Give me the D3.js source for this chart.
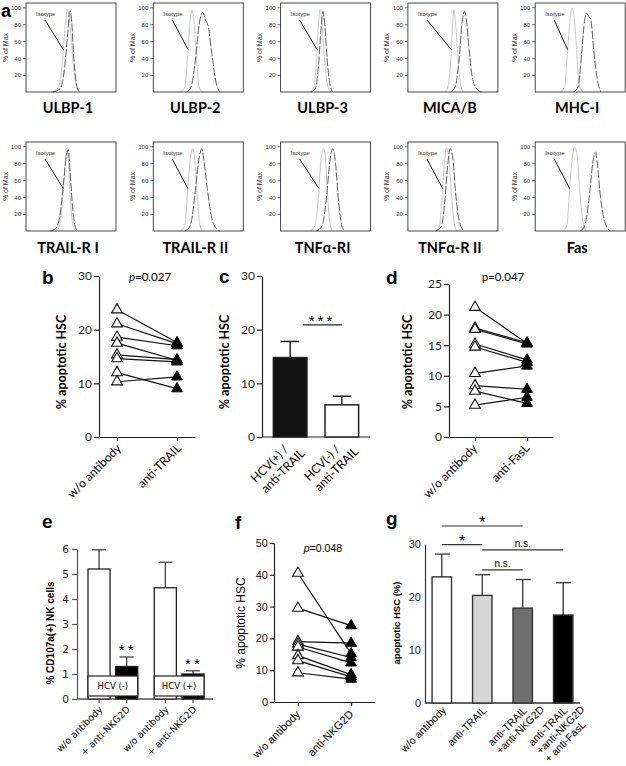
<!DOCTYPE html>
<html>
<head>
<meta charset="utf-8">
<script src="https://cdnjs.cloudflare.com/ajax/libs/d3/7.8.5/d3.min.js"></script>
<style>
body { margin: 0; background: #fff; }
svg { display: block; }
</style>
</head>
<body>
<svg id="fig" width="626" height="766"></svg>
<script>
// ---- panel a: flow histograms (x = fluorescence, 0-100 across frame; y = % of max) ----
const histNames = ['ULBP-1', 'ULBP-2', 'ULBP-3', 'MICA/B', 'MHC-I', 'TRAIL-R I', 'TRAIL-R II', 'TNFα-RI', 'TNFα-R II', 'Fas'];
const histIso = [
  [[28,0],[35,4],[40,30],[43,70],[46,98],[49,78],[52,38],[56,6],[60,0]],
  [[30,0],[35,6],[38,40],[41,85],[43,96],[45,85],[48,40],[51,6],[55,0]],
  [[33,0],[37,6],[40,40],[42,80],[44,98],[46,80],[49,35],[53,5],[56,0]],
  [[41,0],[45,8],[48,45],[50,85],[51,97],[53,80],[56,35],[59,6],[62,0]],
  [[28,0],[33,8],[36,50],[39,90],[41,99],[43,90],[46,50],[49,8],[53,0]],
  [[32,0],[37,5],[40,30],[43,70],[45,97],[47,85],[49,45],[52,8],[55,0]],
  [[30,0],[35,6],[38,45],[41,85],[44,97],[46,85],[49,40],[52,6],[55,0]],
  [[33,0],[38,6],[42,40],[45,85],[48,97],[50,85],[52,45],[55,8],[58,0]],
  [[31,0],[35,6],[38,40],[41,85],[43,98],[46,80],[49,35],[52,6],[55,0]],
  [[30,0],[35,6],[38,45],[41,85],[44,99],[47,85],[50,40],[54,6],[57,0]]
];
const histStain = [
  [[30,0],[38,4],[43,30],[46,65],[49,96],[51,80],[53,42],[56,10],[59,0]],
  [[37,0],[42,6],[47,40],[51,80],[55,94],[58,85],[61,78],[65,45],[70,10],[74,0]],
  [[34,0],[39,5],[42,30],[45,75],[47,95],[49,80],[52,35],[55,8],[58,0]],
  [[48,0],[53,8],[57,40],[60,80],[63,95],[65,85],[68,50],[72,15],[77,3],[82,0]],
  [[43,0],[48,8],[52,50],[55,85],[57,93],[59,90],[62,84],[65,50],[69,15],[73,0]],
  [[27,0],[33,3],[38,20],[42,60],[45,90],[47,96],[49,70],[52,25],[55,4],[58,0]],
  [[35,0],[41,6],[46,40],[50,80],[54,97],[56,85],[60,50],[65,15],[70,3],[74,0]],
  [[40,0],[46,6],[51,40],[55,85],[58,97],[61,80],[64,40],[68,6],[71,0]],
  [[31,0],[37,5],[41,35],[44,75],[47,97],[50,85],[53,45],[57,12],[62,0]],
  [[50,0],[55,6],[60,40],[64,80],[67,93],[69,80],[72,45],[77,12],[83,0]]
];
const histTicks = [20, 40, 60, 80, 100];

// ---- b ----
const bCats = ['w/o antibody', 'anti-TRAIL'];
const bBefore = [23.7, 21.1, 18.6, 17.5, 15.3, 14.6, 12.0, 10.3];
const bAfter = [17.6, 17.4, 17.0, 14.3, 14.4, 14.0, 9.0, 11.2];
const bTicks = [0, 10, 20, 30];

// ---- c ----
const cCats = [['HCV(+) /', 'anti-TRAIL'], ['HCV(-) /', 'anti-TRAIL']];
const cMeans = [14.8, 6.0];
const cSD = [3.0, 1.6];
const cTicks = [0, 10, 20, 30];

// ---- d ----
const dCats = ['w/o antibody', 'anti-FasL'];
const dBefore = [21.2, 17.8, 17.6, 15.2, 14.7, 10.4, 8.4, 7.5, 5.2];
const dAfter = [15.3, 15.4, 15.2, 12.6, 12.2, 11.6, 7.8, 5.5, 6.5];
const dTicks = [0, 5, 10, 15, 20, 25];

// ---- e ----
const eGroups = ['HCV (-)', 'HCV (+)'];
const eConds = ['w/o antibody', '+ anti-NKG2D'];
const eMeans = [[5.2, 1.3], [4.45, 1.0]];
const eSD = [[0.77, 0.38], [1.02, 0.13]];
const eTicks = [0, 1, 2, 3, 4, 5, 6];

// ---- f ----
const fCats = ['w/o antibody', 'anti-NKG2D'];
const fBefore = [40.5, 29.5, 19.0, 18.2, 17.3, 14.6, 13.0, 9.2];
const fAfter = [15.2, 24.0, 18.5, 14.0, 12.3, 8.6, 7.9, 7.2];
const fTicks = [0, 10, 20, 30, 40, 50];

// ---- g ----
const gCats = [['w/o antibody'], ['anti-TRAIL'], ['anti-TRAIL', '+anti-NKG2D'], ['anti-TRAIL', '+anti-NKG2D', '+ anti-FasL']];
const gMeans = [23.8, 20.3, 17.9, 16.6];
const gSD = [4.3, 3.9, 5.4, 6.1];
const gTicks = [0, 10, 20, 30];
const gSig = [[0, 2, '*', 33.4], [0, 1, '*', 29.9], [1, 3, 'n.s.', 28.9], [1, 2, 'n.s.', 25.1]];
const gFills = ['#ffffff', '#d6d6d6', '#6f6f6f', '#000000'];

const CAL = "Lato, 'Open Sans', sans-serif";
const ARI = "'Liberation Sans', Arial, sans-serif";
const VER = "'DejaVu Sans', Verdana, sans-serif";

const svg = d3.select('#fig');
svg.append('rect').attr('width', 626).attr('height', 766).attr('fill', '#fff');

function letter(s, x, y, size) {
  svg.append('text').attr('x', x).attr('y', y).attr('font-family', ARI)
    .attr('font-weight', 'bold').attr('font-size', size || 19).text(s);
}

function yLabel(s, x, y, font, size, weight) {
  svg.append('text').attr('transform', `translate(${x},${y}) rotate(-90)`)
    .attr('text-anchor', 'middle').attr('font-family', font).attr('font-size', size)
    .attr('font-weight', weight || 'normal').text(s);
}

// rotated category label: first line ends at (x, y), further lines left-aligned under it
function rotLabel(lines, x, y, font, size, lh) {
  const t = svg.append('text').attr('transform', `translate(${x},${y}) rotate(-45)`)
    .attr('font-family', font).attr('font-size', size);
  const first = t.append('tspan').attr('x', 0).text(lines[0]);
  const w = first.node().getComputedTextLength();
  first.attr('x', -w);
  lines.slice(1).forEach(s => t.append('tspan').attr('x', -w).attr('dy', lh || size * 1.1).text(s));
}

function styleAxis(ax, font, size, color) {
  ax.selectAll('.domain, .tick line').attr('stroke', color || '#222').attr('stroke-width', 1.2);
  ax.selectAll('text').attr('font-family', font).attr('font-size', size).attr('fill', '#222');
}

// ================= panel a =================
const hw = 90, hh = 89;
histNames.forEach((name, i) => {
  const x0 = 26 + (i % 5) * 127.3;
  const y0 = i < 5 ? 3 : 142;
  const g = svg.append('g').attr('transform', `translate(${x0},${y0})`);
  const x = d3.scaleLinear().domain([0, 100]).range([0, hw]);
  const y = d3.scaleLinear().domain([0, 105]).range([hh, 0]);
  const line = d3.line().x(d => x(d[0])).y(d => y(d[1])).curve(d3.curveMonotoneX);

  g.append('path').datum(histIso[i]).attr('d', line).attr('fill', 'none')
    .attr('stroke', '#c8c8c8').attr('stroke-width', 1);
  g.append('path').datum(histStain[i]).attr('d', line).attr('fill', 'none')
    .attr('stroke', '#5c5c5c').attr('stroke-width', 1).attr('stroke-dasharray', '8,2');
  g.append('rect').attr('width', hw).attr('height', hh).attr('fill', 'none')
    .attr('stroke', '#333').attr('stroke-width', 0.9);

  const ax = g.append('g').call(d3.axisLeft(y).tickValues(histTicks).tickSize(3).tickPadding(2));
  ax.select('.domain').remove();
  ax.selectAll('.tick line').attr('stroke', '#333').attr('stroke-width', 0.7);
  ax.selectAll('text').attr('font-family', ARI).attr('font-size', 6).attr('fill', '#333');

  g.append('text').attr('transform', `translate(-18.5,${hh / 2}) rotate(-90)`)
    .attr('text-anchor', 'middle').attr('font-family', ARI).attr('font-size', 7)
    .attr('fill', '#333').text('% of Max');

  g.append('text').attr('x', 10).attr('y', 13).attr('font-family', ARI)
    .attr('font-size', 6).attr('fill', '#333').text('Isotype');
  // leader line to the left flank of the isotype curve
  const iso = histIso[i];
  let xc = iso[0][0];
  for (let k = 1; k < iso.length; k++) {
    if (iso[k][1] >= 50) {
      const p = iso[k - 1], q = iso[k];
      xc = p[0] + (q[0] - p[0]) * (50 - p[1]) / (q[1] - p[1]);
      break;
    }
  }
  g.append('line').attr('x1', 19).attr('y1', 17).attr('x2', x(xc)).attr('y2', y(50))
    .attr('stroke', '#111').attr('stroke-width', 1);

  svg.append('text').attr('x', x0 + hw / 2 - 3).attr('y', i < 5 ? 113 : 253)
    .attr('text-anchor', 'middle').attr('font-family', CAL).attr('font-weight', 'bold')
    .attr('font-size', 14.5).text(name);
});
letter('a', 1, 17, 18);

// ================= paired plots (b, d, f) =================
function paired(o) {
  const y = d3.scaleLinear().domain([0, o.max]).range([o.y0, o.y1]);
  const x = d3.scalePoint().domain(o.cats).range([o.x0, o.x1]).padding(o.pad);
  const ya = svg.append('g').attr('transform', `translate(${o.x0},0)`)
    .call(d3.axisLeft(y).tickValues(o.ticks).tickSize(o.ts).tickSizeOuter(0).tickPadding(2));
  styleAxis(ya, o.font, o.fs);
  const xa = svg.append('g').attr('transform', `translate(0,${o.y0})`)
    .call(d3.axisBottom(x).tickSize(4).tickSizeOuter(0).tickFormat(''));
  styleAxis(xa, o.font, o.fs);

  o.before.forEach((v, k) => {
    svg.append('line').attr('x1', x(o.cats[0])).attr('y1', y(v))
      .attr('x2', x(o.cats[1])).attr('y2', y(o.after[k]))
      .attr('stroke', '#111').attr('stroke-width', 1.2);
  });
  const tri = d3.symbol().type(d3.symbolTriangle).size(50);
  o.after.forEach(v => {
    svg.append('path').attr('d', tri()).attr('transform', `translate(${x(o.cats[1])},${y(v)})`)
      .attr('fill', '#000').attr('stroke', '#000').attr('stroke-width', 1);
  });
  o.before.forEach(v => {
    svg.append('path').attr('d', tri()).attr('transform', `translate(${x(o.cats[0])},${y(v)})`)
      .attr('fill', '#fff').attr('stroke', '#111').attr('stroke-width', 1.1);
  });
  o.cats.forEach(c => rotLabel([c], x(c) + o.ldx, o.y0 + o.ldy, o.font, o.lfs));
}

paired({ cats: bCats, before: bBefore, after: bAfter, max: 30, ticks: bTicks,
  x0: 99, x1: 195, y0: 437, y1: 276, pad: 0.3, ts: 5, font: CAL, fs: 12,
  ldx: 5, ldy: 12, lfs: 12 });
letter('b', 42, 284);
yLabel('% apoptotic HSC', 66, 362, CAL, 12.5, 'bold');
svg.append('text').attr('x', 150).attr('y', 281).attr('text-anchor', 'middle')
  .attr('font-family', CAL).attr('font-size', 11.5)
  .call(t => { t.append('tspan').attr('font-style', 'italic').text('p'); t.append('tspan').text('=0.027'); });

paired({ cats: dCats, before: dBefore, after: dAfter, max: 25, ticks: dTicks,
  x0: 449, x1: 553, y0: 437, y1: 284, pad: 0.5, ts: 5, font: CAL, fs: 12,
  ldx: 3, ldy: 12, lfs: 12 });
letter('d', 386, 284);
yLabel('% apoptotic HSC', 412, 362, CAL, 12.5, 'bold');
svg.append('text').attr('x', 503).attr('y', 281).attr('text-anchor', 'middle')
  .attr('font-family', CAL).attr('font-size', 11.5).text('p=0.047');

paired({ cats: fCats, before: fBefore, after: fAfter, max: 50, ticks: fTicks,
  x0: 274, x1: 375, y0: 702, y1: 543, pad: 0.45, ts: 4, font: ARI, fs: 11,
  ldx: 3, ldy: 13, lfs: 11 });
letter('f', 235, 529);
yLabel('% apoptotic HSC', 245, 623, ARI, 12, 'normal');
svg.append('text').attr('x', 323).attr('y', 552).attr('text-anchor', 'middle')
  .attr('font-family', ARI).attr('font-size', 10.5)
  .call(t => { t.append('tspan').attr('font-style', 'italic').text('p'); t.append('tspan').text('=0.048'); });

// ================= c =================
{
  const y = d3.scaleLinear().domain([0, 30]).range([437, 276]);
  const x = d3.scaleBand().domain(d3.range(cMeans.length)).range([262, 370])
    .paddingInner(0.35).paddingOuter(0.22);
  const ya = svg.append('g').attr('transform', 'translate(262,0)')
    .call(d3.axisLeft(y).tickValues(cTicks).tickSize(5).tickSizeOuter(0).tickPadding(2));
  styleAxis(ya, CAL, 12);
  svg.append('line').attr('x1', 262).attr('x2', 370).attr('y1', 437).attr('y2', 437)
    .attr('stroke', '#222').attr('stroke-width', 1.2);
  cMeans.forEach((m, i) => {
    const cx = x(i) + x.bandwidth() / 2;
    svg.append('line').attr('x1', cx).attr('x2', cx).attr('y1', y(m)).attr('y2', y(m + cSD[i]))
      .attr('stroke', '#222').attr('stroke-width', 1.5);
    svg.append('line').attr('x1', cx - 9).attr('x2', cx + 9).attr('y1', y(m + cSD[i])).attr('y2', y(m + cSD[i]))
      .attr('stroke', '#222').attr('stroke-width', 1.5);
    svg.append('rect').attr('x', x(i)).attr('y', y(m)).attr('width', x.bandwidth())
      .attr('height', y(0) - y(m)).attr('fill', i === 0 ? '#111' : '#fff')
      .attr('stroke', '#222').attr('stroke-width', 1.5);
    rotLabel(cCats[i], cx - 1, 450, CAL, 12, 14.5);
  });
  const sy = y(20.9);
  svg.append('line').attr('x1', x(0) + x.bandwidth() * 0.88).attr('x2', x(1) + x.bandwidth() * 0.5)
    .attr('y1', sy).attr('y2', sy).attr('stroke', '#222').attr('stroke-width', 1.3);
  svg.append('text').attr('x', 322).attr('y', sy + 1).attr('text-anchor', 'middle')
    .attr('font-family', ARI).attr('font-size', 15).attr('letter-spacing', 3).text('***');
  letter('c', 219, 283);
  yLabel('% apoptotic HSC', 229, 362, CAL, 12.5, 'bold');
}

// ================= e =================
{
  const y = d3.scaleLinear().domain([0, 6]).range([699, 549]);
  const xg = d3.scaleBand().domain(eGroups).range([88, 204]).paddingInner(0.25).paddingOuter(0);
  const xc = d3.scaleBand().domain(eConds).range([0, xg.bandwidth()]).paddingInner(0.2).paddingOuter(0);
  const ya = svg.append('g').attr('transform', 'translate(77,0)')
    .call(d3.axisLeft(y).tickValues(eTicks).tickFormat(d3.format('d')).tickSize(5).tickSizeOuter(0).tickPadding(3));
  styleAxis(ya, VER, 10.5, '#555');
  svg.append('line').attr('x1', 77).attr('x2', 213).attr('y1', 699).attr('y2', 699)
    .attr('stroke', '#555').attr('stroke-width', 1.3);
  eGroups.forEach((grp, gi) => {
    eConds.forEach((cond, ci) => {
      const bx = xg(grp) + xc(cond);
      const cx = bx + xc.bandwidth() / 2;
      const m = eMeans[gi][ci], top = m + eSD[gi][ci];
      svg.append('line').attr('x1', cx).attr('x2', cx).attr('y1', y(m)).attr('y2', y(top))
        .attr('stroke', '#444').attr('stroke-width', 1.3);
      svg.append('line').attr('x1', cx - 7).attr('x2', cx + 7).attr('y1', y(top)).attr('y2', y(top))
        .attr('stroke', '#444').attr('stroke-width', 1.3);
      svg.append('rect').attr('x', bx).attr('y', y(m)).attr('width', xc.bandwidth())
        .attr('height', y(0) - y(m)).attr('fill', ci === 0 ? '#fff' : '#000')
        .attr('stroke', '#222').attr('stroke-width', 1.3);
      svg.append('line').attr('x1', cx).attr('x2', cx).attr('y1', 699).attr('y2', 703)
        .attr('stroke', '#555').attr('stroke-width', 1.2);
      if (ci === 1) {
        svg.append('text').attr('x', cx + 1).attr('y', y(top) - 2).attr('text-anchor', 'middle')
          .attr('font-family', ARI).attr('font-size', 15).attr('letter-spacing', 3).text('**');
      }
      rotLabel([cond], cx + 4, 710, VER, 9.3);
    });
    svg.append('rect').attr('x', xg(grp)).attr('y', y(0.92)).attr('width', xg.bandwidth())
      .attr('height', y(0.12) - y(0.92)).attr('fill', '#fff').attr('stroke', '#222').attr('stroke-width', 1.2);
    svg.append('text').attr('x', xg(grp) + xg.bandwidth() / 2).attr('y', y(0.52) + 3)
      .attr('text-anchor', 'middle').attr('font-family', VER).attr('font-size', 8.5).text(grp);
  });
  letter('e', 42, 528);
  yLabel('% CD107a(+) NK cells', 54, 633, ARI, 10, 'bold');
}

// ================= g =================
{
  const y = d3.scaleLinear().domain([0, 30]).range([703, 544]);
  const x = d3.scaleBand().domain(d3.range(gMeans.length)).range([425, 580])
    .paddingInner(0.52).paddingOuter(0.175);
  const ya = svg.append('g').attr('transform', 'translate(425,0)')
    .call(d3.axisLeft(y).tickValues(gTicks).tickSize(0).tickPadding(4));
  styleAxis(ya, ARI, 11, '#333');
  svg.append('line').attr('x1', 425).attr('x2', 580).attr('y1', 703).attr('y2', 703)
    .attr('stroke', '#333').attr('stroke-width', 1.3);
  gMeans.forEach((m, i) => {
    const cx = x(i) + x.bandwidth() / 2;
    const top = m + gSD[i];
    svg.append('line').attr('x1', cx).attr('x2', cx).attr('y1', y(m)).attr('y2', y(top))
      .attr('stroke', '#333').attr('stroke-width', 1.3);
    svg.append('line').attr('x1', cx - 7).attr('x2', cx + 8).attr('y1', y(top)).attr('y2', y(top))
      .attr('stroke', '#333').attr('stroke-width', 1.3);
    svg.append('rect').attr('x', x(i)).attr('y', y(m)).attr('width', x.bandwidth())
      .attr('height', y(0) - y(m)).attr('fill', gFills[i])
      .attr('stroke', '#333').attr('stroke-width', 1.4);
    rotLabel(gCats[i], cx + 5, 711, ARI, 10.5, 11.5);
  });
  gSig.forEach(([a, b, s, lv]) => {
    const x1 = x(a) + x.bandwidth() / 2, x2 = x(b) + x.bandwidth() / 2;
    svg.append('line').attr('x1', x1).attr('x2', x2).attr('y1', y(lv)).attr('y2', y(lv))
      .attr('stroke', '#333').attr('stroke-width', 1.2);
    svg.append('text').attr('x', (x1 + x2) / 2).attr('y', s === '*' ? y(lv) + 2 : y(lv) - 3)
      .attr('text-anchor', 'middle').attr('font-family', ARI)
      .attr('font-size', s === '*' ? 16 : 10).text(s);
  });
  letter('g', 386, 525);
  yLabel('apoptotic HSC (%)', 400, 623, ARI, 9.5, 'bold');
}
</script>
</body>
</html>
